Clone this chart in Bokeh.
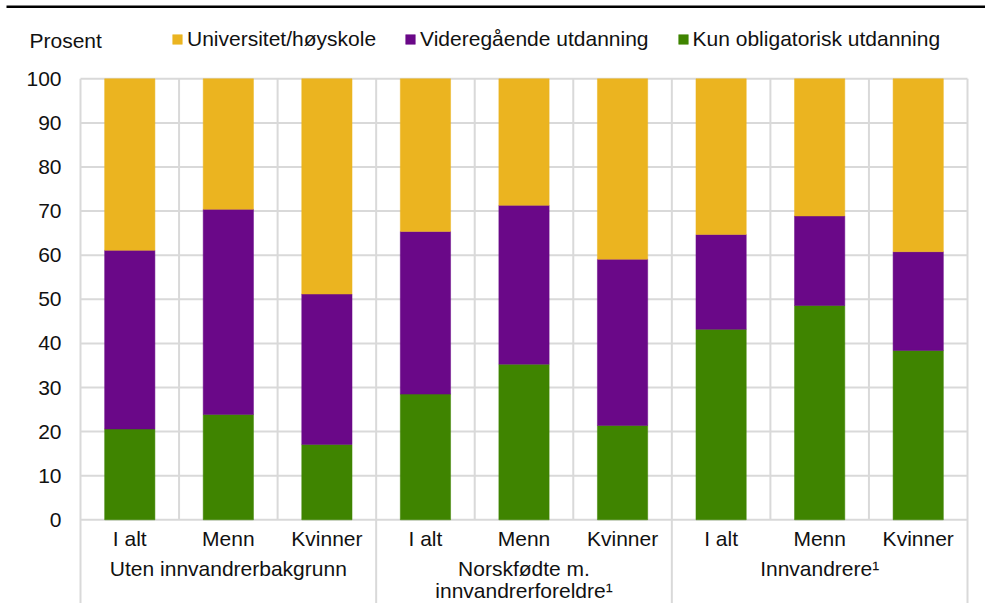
from bokeh.plotting import figure
from bokeh.models import ColumnDataSource, Legend, LegendItem, Range1d
from bokeh.core.properties import value
from bokeh.embed import file_html
from bokeh.resources import INLINE

# ---- data -------------------------------------------------------------
groups = ["Uten innvandrerbakgrunn", "Norskfødte m.\ninnvandrerforeldre¹", "Innvandrere¹"]
subcats = ["I alt", "Menn", "Kvinner"]
series_names = ["Kun obligatorisk utdanning", "Videregående utdanning", "Universitet/høyskole"]
kun = [20.6, 23.9, 17.1, 28.5, 35.3, 21.4, 43.2, 48.6, 38.4]
vgs = [40.5, 46.5, 34.1, 36.9, 36.0, 37.7, 21.5, 20.3, 22.4]
uni = [38.9, 29.6, 48.8, 34.6, 28.7, 40.9, 35.3, 31.1, 39.2]
y_ticks = list(range(0, 101, 10))
y_label = "Prosent"

# ---- styles / geometry --------------------------------------------------
C_KUN, C_VGS, C_UNI = "#3F8400", "#6A0888", "#EBB420"
COLORS = [C_KUN, C_VGS, C_UNI]
GRID = "#D9D9D9"
TXT = "#111111"
FONT = "Liberation Sans"
FS = "21px"
W, H = 985, 603
PLOT_L, PLOT_R = 80.0, 967.0        # pixel edges of the plotting area
Y0_PX, Y100_PX = 519.3, 78.3        # pixel rows of 0 and 100

n_sub = len(subcats)
n_cat = len(groups) * n_sub
x_centers = [i + 0.5 for i in range(n_cat)]
cat_labels = [subcats[i % n_sub] for i in range(n_cat)]

px_x = (PLOT_R - PLOT_L) / n_cat
px_y = (Y0_PX - Y100_PX) / 100.0
X_START, X_END = -PLOT_L / px_x, n_cat + (W - PLOT_R) / px_x
Y_TOP, Y_BOTTOM = Y0_PX / px_y, -(H - Y0_PX) / px_y

def yv(pixel_row):
    return (Y0_PX - pixel_row) / px_y

p = figure(width=W, height=H, output_backend="svg", toolbar_location=None,
           x_range=Range1d(X_START, X_END), y_range=Range1d(Y_BOTTOM, Y_TOP),
           x_axis_location=None, y_axis_location=None,
           min_border_left=0, min_border_right=0, min_border_top=0, min_border_bottom=0)
p.outline_line_color = None
p.grid.visible = False

# top rule
p.segment(x0=[X_START + 6 / px_x], x1=[X_END], y0=[yv(6.2)], y1=[yv(6.2)],
          line_color="black", line_width=2.5)

# horizontal grid lines at the y ticks
p.segment(x0=[0] * len(y_ticks), x1=[n_cat] * len(y_ticks), y0=y_ticks, y1=y_ticks,
          line_color=GRID, line_width=2)

# vertical separators (group borders run down through the label area)
bounds = list(range(n_cat + 1))
seg_y0 = [Y_BOTTOM if b % n_sub == 0 else 0 for b in bounds]
p.segment(x0=bounds, x1=bounds, y0=seg_y0, y1=[100] * len(bounds),
          line_color=GRID, line_width=2)

# y tick labels
p.text(x=[0] * len(y_ticks), y=y_ticks, text=[str(t) for t in y_ticks], x_offset=-19,
       text_font=value(FONT), text_font_size=value(FS), text_color=TXT,
       text_align="right", text_baseline="middle")

# unit label
p.text(x=[0], y=[yv(40.0)], text=[y_label], x_offset=-51, text_font=value(FONT),
       text_font_size=value(FS), text_color=TXT, text_align="left",
       text_baseline="middle")

# stacked bars
src = ColumnDataSource(dict(x=x_centers, kun=kun, vgs=vgs, uni=uni))
rs = p.vbar_stack(["kun", "vgs", "uni"], x="x", width=0.51, source=src,
                  fill_color=COLORS, line_color=COLORS, line_width=0.5)

# category labels
p.text(x=x_centers, y=[yv(538)] * n_cat, text=cat_labels, text_font=value(FONT),
       text_font_size=value(FS), text_color=TXT, text_align="center",
       text_baseline="middle")

# group labels (possibly multi-line)
gx, gy, gt = [], [], []
line_rows = [567.5, 590.0]
for gi, g in enumerate(groups):
    for li, line in enumerate(g.split("\n")):
        gx.append(gi * n_sub + n_sub / 2)
        gy.append(yv(line_rows[li]))
        gt.append(line)
p.text(x=gx, y=gy, text=gt, text_font=value(FONT), text_font_size=value(FS),
       text_color=TXT, text_align="center", text_baseline="middle")

# legend
items = [LegendItem(label=series_names[i], renderers=[rs[i]]) for i in (2, 1, 0)]
legend = Legend(items=items, orientation="horizontal", location=(171, H - 50.7),
                glyph_width=12, glyph_height=12, label_standoff=4, spacing=28,
                padding=0, margin=0, border_line_color=None, background_fill_alpha=0,
                label_text_font=FONT, label_text_font_size=FS, label_text_color=TXT)
p.add_layout(legend)

open("out.html", "w").write(file_html(p, INLINE))
